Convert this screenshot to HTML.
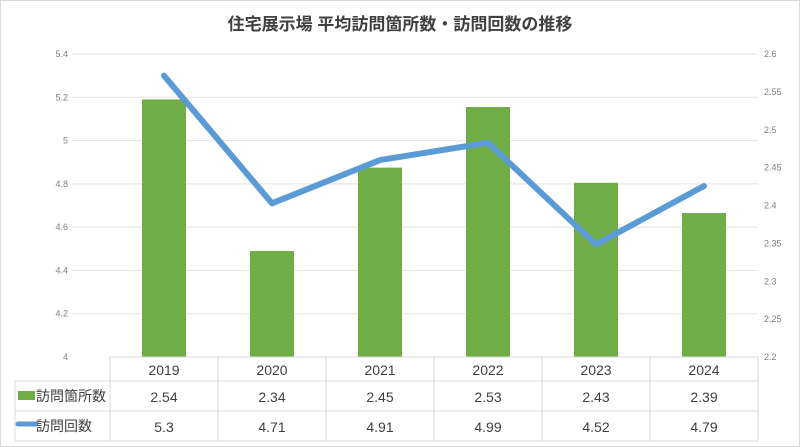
<!DOCTYPE html>
<html><head><meta charset="utf-8"><style>
body{margin:0;background:#fff;}
svg{display:block;font-family:"Liberation Sans","Noto Sans CJK JP",sans-serif;}
</style></head><body>
<svg id="c" width="800" height="447" viewBox="0 0 800 447">
<rect x="0.5" y="0.5" width="799" height="446" fill="#fff" stroke="#d9d9d9"/>
<text x="400" y="30" text-anchor="middle" font-size="17" font-weight="bold" fill="#404040">住宅展示場 平均訪問箇所数・訪問回数の推移</text>
<g id="grid"></g><g id="bars"></g><g id="line"></g><g id="table"></g>
</svg>
<script>
const categories=["2019","2020","2021","2022","2023","2024"];
const placesValues=[2.54,2.34,2.45,2.53,2.43,2.39];
const visitsValues=[5.3,4.71,4.91,4.99,4.52,4.79];
const leftTicks=[4,4.2,4.4,4.6,4.8,5,5.2,5.4];
const rightTicks=[2.2,2.25,2.3,2.35,2.4,2.45,2.5,2.55,2.6];
const NS="http://www.w3.org/2000/svg";
const plotTop=54,plotBot=357,x0=110,colW=108;
function yL(v){return plotBot-(v-4)/(5.4-4)*(plotBot-plotTop);}
function yR(v){return plotBot-(v-2.2)/(2.6-2.2)*(plotBot-plotTop);}
function xC(i){return x0+colW*(i+0.5);}
function mk(tag,attrs,parent,text){const e=document.createElementNS(NS,tag);for(const k in attrs)e.setAttribute(k,attrs[k]);if(text!==undefined)e.textContent=text;document.getElementById(parent).appendChild(e);return e;}
leftTicks.forEach(t=>{
 if(t>4){const g=mk('line',{x1:72,x2:758,y1:yL(t),y2:yL(t),stroke:'#e3e3e3','stroke-width':1},'grid');
 
 }
 const l=mk('text',{x:68,y:yL(t)+3,'text-anchor':'end','font-size':9,fill:'#7f7f7f'},'grid',String(t));
 
 
});
rightTicks.forEach(t=>{
 const l=mk('text',{x:764,y:yR(t)+3,'font-size':9,fill:'#7f7f7f'},'grid',String(t));
 
 
});
placesValues.forEach((v,i)=>{
 const b=mk('rect',{x:xC(i)-22,y:yR(v),width:44,height:plotBot-yR(v),fill:'#70ad47'},'bars');
 
 
});
const pts=visitsValues.map((v,i)=>xC(i)+','+yL(v)).join(' ');
const pl=mk('polyline',{points:pts,fill:'none',stroke:'#5b9bd5','stroke-width':6,'stroke-linejoin':'round','stroke-linecap':'round'},'line');


const rows=[381,411,441];
const hl=[[x0,357,758,357]];
rows.forEach(y=>hl.push([15,y,758,y]));
hl.forEach(a=>{const l=mk('line',{x1:a[0],y1:a[1],x2:a[2],y2:a[3],stroke:'#d9d9d9'},'table');
 
 });
const lv=mk('line',{x1:15,y1:381,x2:15,y2:441,stroke:'#d9d9d9'},'table');


for(let i=0;i<=6;i++){const l=mk('line',{x1:x0+colW*i,y1:357,x2:x0+colW*i,y2:441,stroke:'#d9d9d9'},'table');
 
 }
categories.forEach((c,i)=>{
 const t=mk('text',{x:xC(i),y:375,'text-anchor':'middle','font-size':14,fill:'#404040'},'table',c);
 
 
 const a=mk('text',{x:xC(i),y:402,'text-anchor':'middle','font-size':14,fill:'#404040'},'table',String(placesValues[i]));
 
 
 const b=mk('text',{x:xC(i),y:432,'text-anchor':'middle','font-size':14,fill:'#404040'},'table',String(visitsValues[i]));
 
 
});
const k1=mk('rect',{x:18,y:391,width:17,height:9,fill:'#70ad47'},'table');


const t1=mk('text',{x:36,y:401,'font-size':14,fill:'#404040'},'table','訪問箇所数');


const k2=mk('line',{x1:18,y1:424,x2:36,y2:424,stroke:'#5b9bd5','stroke-width':5,'stroke-linecap':'round'},'table');


const t2=mk('text',{x:36,y:431,'font-size':14,fill:'#404040'},'table','訪問回数');


</script>
</body></html>
